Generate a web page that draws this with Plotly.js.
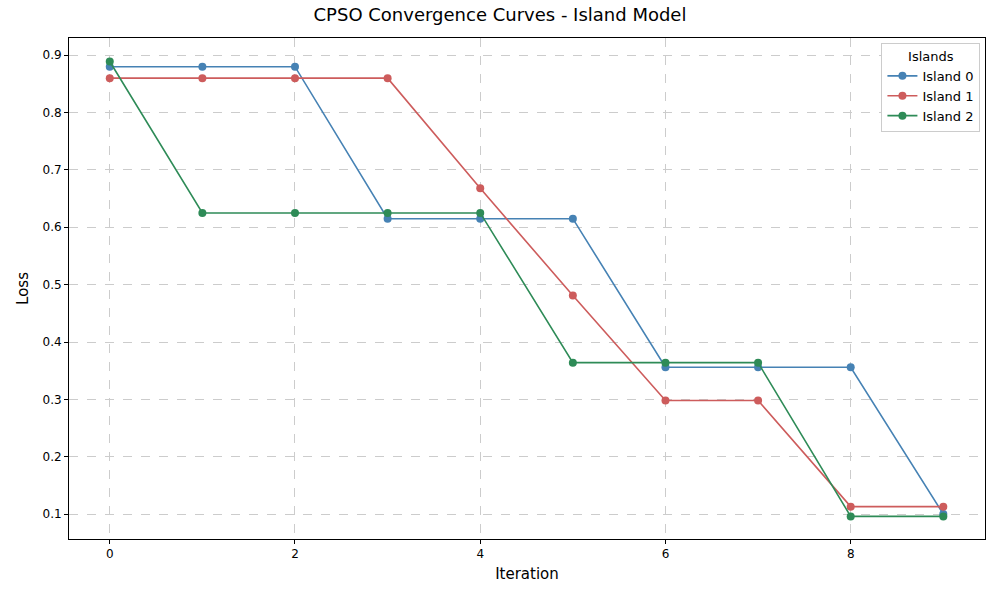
<!DOCTYPE html>
<html>
<head>
<meta charset="utf-8">
<script src="https://cdn.plot.ly/plotly-3.0.1.min.js"></script>
</head>
<body style="margin:0">
<div id="plot" style="width:1000px;height:600px"></div>
<script>
const iterations = [0,1,2,3,4,5,6,7,8,9];
const island0 = [0.88,0.88,0.88,0.615,0.615,0.615,0.356,0.356,0.356,0.1];
const island1 = [0.86,0.86,0.86,0.86,0.668,0.481,0.298,0.298,0.113,0.113];
const island2 = [0.889,0.625,0.625,0.625,0.625,0.364,0.364,0.364,0.096,0.096];
const names = ['Island 0','Island 1','Island 2'];
const colors = ['#4682b4','#cd5c5c','#2e8b57'];

const traces = [island0, island1, island2].map((ys, i) => ({
  x: iterations, y: ys, name: names[i], type: 'scatter', mode: 'lines+markers',
  line: {color: colors[i], width: 1.6}, marker: {color: colors[i], size: 8}
}));

const gridAxis = {
  showgrid: true, gridcolor: '#cccccc', griddash: 'dash', gridwidth: 1,
  zeroline: false, showline: true, mirror: true, linecolor: 'black', linewidth: 1,
  ticks: 'outside', ticklen: 4, tickcolor: 'black', tickfont: {size: 12, color: 'black'}
};

const layout = {
  font: {family: 'DejaVu Sans', color: 'black'},
  paper_bgcolor: 'white', plot_bgcolor: 'white',
  margin: {l: 69, r: 15, t: 38, b: 61},
  title: {text: 'CPSO Convergence Curves - Island Model', font: {size: 18}, x: 0.5, y: 0.975, yanchor: 'middle'},
  xaxis: Object.assign({}, gridAxis, {
    range: [-0.44, 9.45], tickvals: [0,2,4,6,8],
    title: {text: 'Iteration', font: {size: 15}, standoff: 8}
  }),
  yaxis: Object.assign({}, gridAxis, {
    range: [0.0566, 0.930], tickvals: [0.1,0.2,0.3,0.4,0.5,0.6,0.7,0.8,0.9], tickformat: '.1f',
    title: {text: 'Loss', font: {size: 15}, standoff: 10}
  }),
  legend: {
    title: {text: 'Islands', side: 'top center', font: {size: 13}},
    x: 0.995, y: 0.99, xanchor: 'right', yanchor: 'top',
    bordercolor: '#cccccc', borderwidth: 1, bgcolor: 'white', font: {size: 13}
  },
  showlegend: true
};

Plotly.newPlot('plot', traces, layout, {displayModeBar: false});
</script>
</body>
</html>
